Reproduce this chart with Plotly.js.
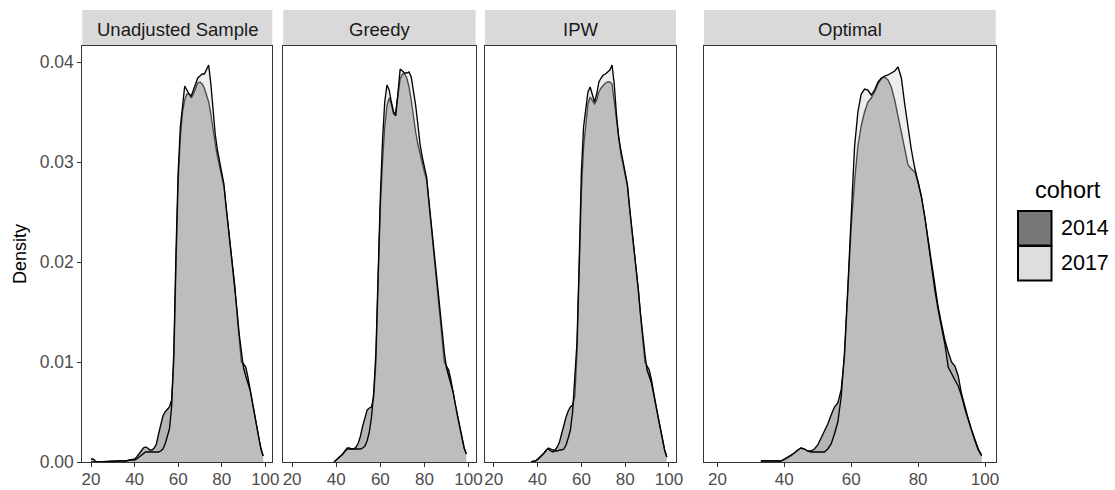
<!DOCTYPE html>
<html>
<head>
<meta charset="utf-8">
<script src="https://cdn.plot.ly/plotly-3.0.1.min.js"></script>
<style>
  html, body { margin: 0; padding: 0; background: #ffffff; }
  #chart { width: 1115px; height: 490px; }
</style>
</head>
<body>
<div id="chart"></div>
<script>
// Facet labels and cohort names
const panels = ['Unadjusted Sample', 'Greedy', 'IPW', 'Optimal'];
const cohorts = ['2014', '2017'];
const xTicks = [20, 40, 60, 80, 100];
const yTicks = [0, 0.01, 0.02, 0.03, 0.04];

// Age grid (x) of each facet's density estimate
const xUnadjusted = [20, 21, 22, 23, 33, 36, 38,
  40, 41, 42, 43, 44, 45, 46, 47, 48, 49,
  50, 51, 52, 53, 54, 55, 56, 57, 58, 59,
  60, 61, 62, 63, 64, 65, 66, 67, 68, 69,
  70, 71, 72, 73, 74, 75, 76, 77, 78, 79,
  80, 81, 82, 83, 84, 85, 86, 87, 88, 89,
  90, 91, 92, 93, 94, 95, 96, 97, 98, 99];
const xGreedy = [39,
  40, 41, 42, 43, 44, 45, 46, 47, 48, 49,
  50, 51, 52, 53, 54, 55, 56, 57, 58, 59,
  60, 61, 62, 63, 64, 65, 66, 67, 68, 69,
  70, 71, 72, 73, 74, 75, 76, 77, 78, 79,
  80, 81, 82, 83, 84, 85, 86, 87, 88, 89,
  90, 91, 92, 93, 94, 95, 96, 97, 98, 99];
const xIPW = [37, 38, 39,
  40, 41, 42, 43, 44, 45, 46, 47, 48, 49,
  50, 51, 52, 53, 54, 55, 56, 57, 58, 59,
  60, 61, 62, 63, 64, 65, 66, 67, 68, 69,
  70, 71, 72, 73, 74, 75, 76, 77, 78, 79,
  80, 81, 82, 83, 84, 85, 86, 87, 88, 89,
  90, 91, 92, 93, 94, 95, 96, 97, 98, 99];
const xOptimal = [33, 36, 39,
  40, 41, 42, 43, 44, 45, 46, 47, 48, 49,
  50, 51, 52, 53, 54, 55, 56, 57, 58, 59,
  60, 61, 62, 63, 64, 65, 66, 67, 68, 69,
  70, 71, 72, 73, 74, 75, 76, 77, 78, 79,
  80, 81, 82, 83, 84, 85, 86, 87, 88, 89,
  90, 91, 92, 93, 94, 95, 96, 97, 98, 99];

// Density values, cohort 2014
const unadjusted2014 = [0.0003, 0.0003, 0.0001, 0, 0.0001, 0.0001, 0.0002,
  0.0003, 0.0005, 0.0008, 0.0011, 0.0014, 0.0015, 0.0014, 0.0012, 0.0012, 0.0014,
  0.0018, 0.0028, 0.0038, 0.0046, 0.0050, 0.0053, 0.0055, 0.0062, 0.0100, 0.0195,
  0.0280, 0.0325, 0.0350, 0.0362, 0.0368, 0.0368, 0.0364, 0.0368, 0.0374, 0.0379,
  0.0380, 0.0378, 0.0374, 0.0368, 0.0360, 0.0348, 0.0332, 0.0318, 0.0306, 0.0296,
  0.0286, 0.0275, 0.0254, 0.0234, 0.0214, 0.0195, 0.0176, 0.0148, 0.0125, 0.0100,
  0.0098, 0.0095, 0.0085, 0.0072, 0.0060, 0.0048, 0.0036, 0.0024, 0.0013, 0.0006];
const greedy2014 = [0,
  0.0002, 0.0004, 0.0006, 0.0008, 0.0011, 0.0014, 0.0014, 0.0013, 0.0013, 0.0015,
  0.0019, 0.0026, 0.0036, 0.0045, 0.0052, 0.0054, 0.0055, 0.0065, 0.0100, 0.0180,
  0.0255, 0.0300, 0.0335, 0.0356, 0.0364, 0.0358, 0.0348, 0.0350, 0.0368, 0.0383,
  0.0388, 0.0388, 0.0384, 0.0375, 0.0362, 0.0345, 0.0330, 0.0318, 0.0308, 0.0298,
  0.0290, 0.0282, 0.0260, 0.0238, 0.0216, 0.0196, 0.0174, 0.0148, 0.0124, 0.0100,
  0.0096, 0.0092, 0.0082, 0.0068, 0.0057, 0.0045, 0.0034, 0.0023, 0.0014, 0.0008];
const ipw2014 = [0, 0, 0.0001,
  0.0002, 0.0004, 0.0006, 0.0009, 0.0012, 0.0014, 0.0013, 0.0012, 0.0012, 0.0015,
  0.0020, 0.0028, 0.0038, 0.0045, 0.0051, 0.0055, 0.0057, 0.0065, 0.0110, 0.0190,
  0.0270, 0.0315, 0.0340, 0.0358, 0.0365, 0.0362, 0.0358, 0.0362, 0.0370, 0.0374,
  0.0377, 0.0379, 0.0380, 0.0380, 0.0378, 0.0360, 0.0338, 0.0320, 0.0308, 0.0298,
  0.0288, 0.0276, 0.0253, 0.0233, 0.0213, 0.0194, 0.0172, 0.0146, 0.0124, 0.0100,
  0.0096, 0.0092, 0.0082, 0.0068, 0.0057, 0.0045, 0.0034, 0.0023, 0.0012, 0.0005];
const optimal2014 = [0.0001, 0.0001, 0.0001,
  0.0002, 0.0004, 0.0006, 0.0009, 0.0012, 0.0014, 0.0013, 0.0011, 0.0011, 0.0013,
  0.0017, 0.0024, 0.0030, 0.0038, 0.0047, 0.0055, 0.0059, 0.0072, 0.0105, 0.0170,
  0.0235, 0.0280, 0.0316, 0.0336, 0.0350, 0.0360, 0.0364, 0.0370, 0.0378, 0.0383,
  0.0385, 0.0382, 0.0375, 0.0362, 0.0345, 0.0328, 0.0313, 0.0297, 0.0293, 0.0290,
  0.0280, 0.0265, 0.0245, 0.0222, 0.0198, 0.0176, 0.0155, 0.0138, 0.0122, 0.0110,
  0.0100, 0.0096, 0.0086, 0.0068, 0.0055, 0.0043, 0.0032, 0.0022, 0.0013, 0.0007];

// Density values, cohort 2017
const unadjusted2017 = [0, 0, 0, 0, 0.0001, 0.0001, 0.0002,
  0.0002, 0.0003, 0.0005, 0.0007, 0.0009, 0.0010, 0.0010, 0.0010, 0.0010, 0.0010,
  0.0010, 0.0010, 0.0011, 0.0013, 0.0018, 0.0025, 0.0033, 0.0055, 0.0110, 0.0210,
  0.0290, 0.0335, 0.0358, 0.0376, 0.0372, 0.0368, 0.0366, 0.0372, 0.0378, 0.0384,
  0.0386, 0.0388, 0.0388, 0.0392, 0.0397, 0.0378, 0.0348, 0.0328, 0.0312, 0.0300,
  0.0289, 0.0278, 0.0256, 0.0236, 0.0216, 0.0197, 0.0178, 0.0152, 0.0128, 0.0108,
  0.0094, 0.0086, 0.0080, 0.0072, 0.0060, 0.0048, 0.0036, 0.0024, 0.0013, 0.0006];
const greedy2017 = [0,
  0.0002, 0.0003, 0.0005, 0.0008, 0.0011, 0.0013, 0.0013, 0.0013, 0.0013, 0.0013,
  0.0013, 0.0013, 0.0014, 0.0016, 0.0021, 0.0030, 0.0045, 0.0070, 0.0110, 0.0190,
  0.0265, 0.0322, 0.0360, 0.0377, 0.0372, 0.0360, 0.0350, 0.0346, 0.0370, 0.0393,
  0.0391, 0.0389, 0.0389, 0.0390, 0.0385, 0.0372, 0.0357, 0.0338, 0.0318, 0.0305,
  0.0296, 0.0285, 0.0262, 0.0240, 0.0218, 0.0197, 0.0175, 0.0150, 0.0128, 0.0110,
  0.0094, 0.0086, 0.0079, 0.0070, 0.0058, 0.0046, 0.0034, 0.0023, 0.0014, 0.0008];
const ipw2017 = [0, 0.0001, 0.0001,
  0.0003, 0.0004, 0.0006, 0.0009, 0.0012, 0.0013, 0.0011, 0.0010, 0.0011, 0.0011,
  0.0012, 0.0012, 0.0013, 0.0017, 0.0024, 0.0032, 0.0050, 0.0080, 0.0120, 0.0200,
  0.0290, 0.0335, 0.0355, 0.0370, 0.0375, 0.0366, 0.0360, 0.0368, 0.0380, 0.0384,
  0.0387, 0.0388, 0.0390, 0.0392, 0.0397, 0.0378, 0.0348, 0.0325, 0.0312, 0.0300,
  0.0290, 0.0278, 0.0255, 0.0235, 0.0214, 0.0195, 0.0172, 0.0148, 0.0126, 0.0108,
  0.0092, 0.0085, 0.0079, 0.0068, 0.0057, 0.0045, 0.0034, 0.0023, 0.0012, 0.0005];
const optimal2017 = [0.0001, 0.0001, 0.0001,
  0.0003, 0.0005, 0.0007, 0.0009, 0.0012, 0.0014, 0.0013, 0.0011, 0.0010, 0.0010,
  0.0010, 0.0010, 0.0010, 0.0013, 0.0018, 0.0028, 0.0040, 0.0065, 0.0110, 0.0175,
  0.0250, 0.0315, 0.0350, 0.0368, 0.0373, 0.0372, 0.0367, 0.0372, 0.0380, 0.0384,
  0.0386, 0.0387, 0.0389, 0.0391, 0.0395, 0.0384, 0.0358, 0.0333, 0.0312, 0.0294,
  0.0280, 0.0265, 0.0245, 0.0220, 0.0195, 0.0172, 0.0152, 0.0136, 0.0118, 0.0095,
  0.0088, 0.0082, 0.0076, 0.0066, 0.0053, 0.0042, 0.0031, 0.0021, 0.0012, 0.0006];

const xByPanel = [xUnadjusted, xGreedy, xIPW, xOptimal];
const y2014ByPanel = [unadjusted2014, greedy2014, ipw2014, optimal2014];
const y2017ByPanel = [unadjusted2017, greedy2017, ipw2017, optimal2017];

// ---- layout geometry (figure pixels -> paper fractions) ----
const W = 1115, H = 490;
const px = v => v / W;
const py = v => 1 - v / H;
const panelLeft  = [82.3, 283.3, 485.0, 704.0];
const panelRight = [272.3, 475.6, 676.0, 995.7];
const panelTop = 46, panelBottom = 462, stripTop = 10;

const FONT = 'Liberation Sans, Arial, sans-serif';
const fill2014 = 'rgba(51,51,51,0.36)';
const fill2017 = 'rgba(204,204,204,0.36)';

const traces = [];
const layout = {
  width: W, height: H,
  margin: {l: 0, r: 0, t: 0, b: 0},
  paper_bgcolor: '#ffffff',
  plot_bgcolor: '#ffffff',
  showlegend: false,
  font: {family: FONT},
  shapes: [],
  annotations: []
};

panels.forEach((name, i) => {
  const s = i === 0 ? '' : String(i + 1);
  const xa = 'x' + s, ya = 'y' + s;
  traces.push({
    type: 'scatter', mode: 'lines', x: xByPanel[i], y: y2014ByPanel[i],
    xaxis: xa, yaxis: ya, fill: 'tozeroy', fillcolor: fill2014,
    line: {color: '#000000', width: 1.35}, hoverinfo: 'skip', name: cohorts[0]
  });
  traces.push({
    type: 'scatter', mode: 'lines', x: xByPanel[i], y: y2017ByPanel[i],
    xaxis: xa, yaxis: ya, fill: 'tozeroy', fillcolor: fill2017,
    line: {color: '#000000', width: 1.35}, hoverinfo: 'skip', name: cohorts[1]
  });

  layout['xaxis' + s] = {
    domain: [px(panelLeft[i]), px(panelRight[i])],
    anchor: ya, range: [16, 103.2],
    tickmode: 'array', tickvals: xTicks, ticktext: xTicks.map(String),
    ticks: 'outside', ticklen: 4, tickwidth: 1, tickcolor: '#333333',
    ticklabelstandoff: -2,
    tickfont: {family: FONT, size: 17, color: '#4d4d4d'},
    showgrid: false, zeroline: false,
    showline: true, mirror: true, linecolor: '#333333', linewidth: 1
  };
  layout['yaxis' + s] = {
    domain: [py(panelBottom), py(panelTop)],
    anchor: xa, range: [0, 0.0416],
    tickmode: 'array', tickvals: yTicks,
    ticktext: yTicks.map(v => v.toFixed(2)),
    showticklabels: i === 0,
    ticks: i === 0 ? 'outside' : '', ticklen: 4, tickwidth: 1, tickcolor: '#333333',
    tickfont: {family: FONT, size: 17.5, color: '#4d4d4d'},
    showgrid: false, zeroline: false,
    showline: true, mirror: true, linecolor: '#333333', linewidth: 1
  };

  // facet strip
  layout.shapes.push({
    type: 'rect', xref: 'paper', yref: 'paper',
    x0: px(panelLeft[i]), x1: px(panelRight[i]),
    y0: py(panelTop), y1: py(stripTop),
    fillcolor: '#d9d9d9', line: {width: 0}, layer: 'below'
  });
  layout.annotations.push({
    xref: 'paper', yref: 'paper',
    x: px((panelLeft[i] + panelRight[i]) / 2), y: py((stripTop + panelTop) / 2 + 1),
    text: name, showarrow: false, xanchor: 'center', yanchor: 'middle',
    font: {family: FONT, size: 18.5, color: '#1a1a1a'}
  });
});

// y axis title
layout.annotations.push({
  xref: 'paper', yref: 'paper', x: px(20), y: py((panelTop + panelBottom) / 2),
  text: 'Density', textangle: -90, showarrow: false,
  xanchor: 'center', yanchor: 'middle',
  font: {family: FONT, size: 18, color: '#000000'}
});

// legend: title, keys and labels
const keyColors = ['#777777', '#dedede'];
const keyTops = [211, 246];
const keySize = 34.5;
layout.annotations.push({
  xref: 'paper', yref: 'paper', x: px(1068), y: py(190),
  text: 'cohort', showarrow: false, xanchor: 'center', yanchor: 'middle',
  font: {family: FONT, size: 23.5, color: '#000000'}
});
cohorts.forEach((c, k) => {
  layout.shapes.push({
    type: 'rect', xref: 'paper', yref: 'paper',
    x0: px(1018), x1: px(1051.5),
    y0: py(keyTops[k] + keySize), y1: py(keyTops[k]),
    fillcolor: keyColors[k], line: {color: '#000000', width: 2}
  });
  layout.annotations.push({
    xref: 'paper', yref: 'paper', x: px(1059), y: py(keyTops[k] + keySize / 2),
    text: c, showarrow: false, xanchor: 'left', yanchor: 'middle',
    font: {family: FONT, size: 21.5, color: '#000000'}
  });
});

Plotly.newPlot('chart', traces, layout, {staticPlot: true, displayModeBar: false});
</script>
</body>
</html>
